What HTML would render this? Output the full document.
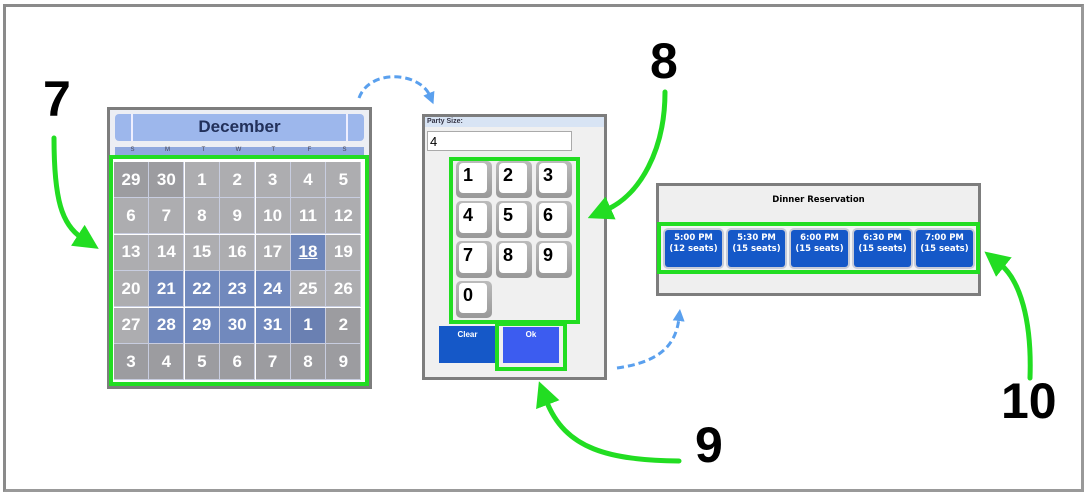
<!DOCTYPE html>
<html><head><style>
*{margin:0;padding:0;box-sizing:border-box}
body{width:1087px;height:496px;background:#fff;position:relative;overflow:hidden;font-family:"Liberation Sans",sans-serif}
.a{position:absolute}
.cell{position:absolute;width:35px;height:36px;color:#fff;font-weight:bold;font-size:17px;display:flex;align-items:center;justify-content:center;border-right:1px solid #c8cde0;border-bottom:1px solid #c8cde0}
.key{position:absolute;width:36px;height:37px;border-radius:5px;background:linear-gradient(#bbb,#999);}
.key span{position:absolute;left:3px;top:2px;width:28px;height:30px;background:#fff;border-radius:4px;font-weight:bold;font-size:18px;padding:2px 0 0 4px;color:#000}
.tb{position:absolute;top:230px;width:57px;height:37px;background:#1558c8;border-radius:3px;color:#fff;font-family:"DejaVu Sans",sans-serif;font-weight:bold;font-size:8.5px;text-align:center;line-height:11px;padding-top:3px;box-shadow:0 0 0 2px #c8ccd8}
.num{position:absolute;font-weight:bold;color:#000;font-size:50px;line-height:1}
.dl{position:absolute;top:147px;width:35px;text-align:center;font-size:6px;color:#445}
</style></head><body>
<div class="a" style="left:3px;top:4px;width:1081px;height:488px;border:3px solid #8a8a8a;border-right-color:#999;border-bottom-color:#999"></div>

<!-- calendar -->
<div class="a" style="left:107px;top:107px;width:265px;height:282px;border:3px solid #7d7d7d;background:#eceef4"></div>
<div class="a" style="left:115px;top:114px;width:249px;height:27px;background:#9db7ec;border-radius:4px"></div>
<div class="a" style="left:131px;top:114px;width:2px;height:27px;background:#eef"></div>
<div class="a" style="left:346px;top:114px;width:2px;height:27px;background:#eef"></div>
<div class="a" style="left:115px;top:117px;width:249px;text-align:center;font-weight:bold;font-size:17px;color:#22305a">December</div>
<div class="a" style="left:115px;top:147px;width:249px;height:10px;background:#8fa8de"></div>
<div class="dl" style="left:115px">S</div><div class="dl" style="left:150px">M</div><div class="dl" style="left:186px">T</div><div class="dl" style="left:221px">W</div><div class="dl" style="left:256px">T</div><div class="dl" style="left:292px">F</div><div class="dl" style="left:327px">S</div>
<div class="a" style="left:109px;top:155px;width:260px;height:231px;border:4px solid #22dd22;background:#fff"></div>
<div id="cal"></div>

<!-- keypad -->
<div class="a" style="left:422px;top:114px;width:185px;height:266px;border:3px solid #7d7d7d;background:#f0f0f0"></div>
<div class="a" style="left:425px;top:117px;width:179px;height:10px;background:#d8e4f4"></div>
<div class="a" style="left:427px;top:118px;font-size:7px;color:#334;font-weight:bold">Party Size:</div>
<div class="a" style="left:427px;top:131px;width:145px;height:20px;background:#fff;border:1px solid #aaa;font-size:13px;padding:2px 0 0 2px">4</div>
<div class="a" style="left:449px;top:157px;width:131px;height:167px;border:4px solid #22dd22"></div>
<div class="key" style="left:456px;top:161px"><span>1</span></div>
<div class="key" style="left:496px;top:161px"><span>2</span></div>
<div class="key" style="left:536px;top:161px"><span>3</span></div>
<div class="key" style="left:456px;top:201px"><span>4</span></div>
<div class="key" style="left:496px;top:201px"><span>5</span></div>
<div class="key" style="left:536px;top:201px"><span>6</span></div>
<div class="key" style="left:456px;top:241px"><span>7</span></div>
<div class="key" style="left:496px;top:241px"><span>8</span></div>
<div class="key" style="left:536px;top:241px"><span>9</span></div>
<div class="key" style="left:456px;top:281px"><span>0</span></div>
<div class="a" style="left:439px;top:326px;width:57px;height:37px;background:#1558c8;color:#fff;font-size:8px;font-weight:bold;text-align:center;padding-top:4px">Clear</div>
<div class="a" style="left:495px;top:322px;width:72px;height:49px;border:4px solid #22dd22"></div>
<div class="a" style="left:503px;top:327px;width:56px;height:36px;background:#3c5cf0;color:#fff;font-size:8px;font-weight:bold;text-align:center;padding-top:3px">Ok</div>

<!-- reservation -->
<div class="a" style="left:656px;top:183px;width:325px;height:113px;border:3px solid #7d7d7d;background:#efefef"></div>
<div class="a" style="left:656px;top:195px;width:325px;text-align:center;font-family:'DejaVu Sans',sans-serif;font-weight:bold;font-size:8.5px">Dinner Reservation</div>
<div class="a" style="left:657px;top:222px;width:323px;height:52px;border:4px solid #22dd22;background:#f4f4f4"></div>
<div class="tb" style="left:665px">5:00 PM<br>(12 seats)</div>
<div class="tb" style="left:728px">5:30 PM<br>(15 seats)</div>
<div class="tb" style="left:791px">6:00 PM<br>(15 seats)</div>
<div class="tb" style="left:854px">6:30 PM<br>(15 seats)</div>
<div class="tb" style="left:916px">7:00 PM<br>(15 seats)</div>

<div class="num" style="left:43px;top:74px">7</div>
<div class="num" style="left:650px;top:36px">8</div>
<div class="num" style="left:695px;top:420px">9</div>
<div class="num" style="left:1001px;top:376px">10</div>

<svg class="a" style="left:0;top:0" width="1087" height="496">
<defs>
<marker id="g" markerWidth="5" markerHeight="5" refX="1" refY="2.5" orient="auto"><path d="M0,0 L5,2.5 L0,5z" fill="#22dd22"/></marker>
<marker id="b" markerWidth="4" markerHeight="4" refX="1" refY="2" orient="auto"><path d="M0,0 L4,2 L0,4z" fill="#5aa0ee"/></marker>
</defs>
<g fill="none" stroke="#22dd22" stroke-width="5" stroke-linecap="round" marker-end="url(#g)">
<path d="M54,138 C54,200 62,225 82,238"/>
<path d="M665,92 C665,150 640,195 606,210"/>
<path d="M679,461 C610,460 565,450 546,400"/>
<path d="M1030,378 C1032,320 1020,280 1000,264"/>
</g>
<g fill="none" stroke="#5aa0ee" stroke-width="3" stroke-dasharray="7,4" marker-end="url(#b)">
<path d="M359,98 C370,68 420,72 430,96"/>
<path d="M617,368 C660,362 676,345 679,318"/>
</g>
</svg>
<script>
var c=document.getElementById('cal'),h='';
var nums=[29,30,1,2,3,4,5,6,7,8,9,10,11,12,13,14,15,16,17,18,19,20,21,22,23,24,25,26,27,28,29,30,31,1,2,3,4,5,6,7,8,9];
for(var i=0;i<42;i++){var r=Math.floor(i/7),k=i%7,bg='#adadb0';
if(i<2||i==34||i>=35)bg='#9c9ca0';
if([22,23,24,25,29,30,31,32].indexOf(i)>=0)bg='#7189bd';
if(i==19)bg='#6d86bb';if(i==33)bg='#6a80b2';
var t=nums[i];if(i==19)t='<u>18</u>';
h+='<div class="cell" style="left:'+(114+k*35.4)+'px;top:'+(162+r*36.4)+'px;background:'+bg+'">'+t+'</div>';}
c.innerHTML=h;
</script>
</body></html>
